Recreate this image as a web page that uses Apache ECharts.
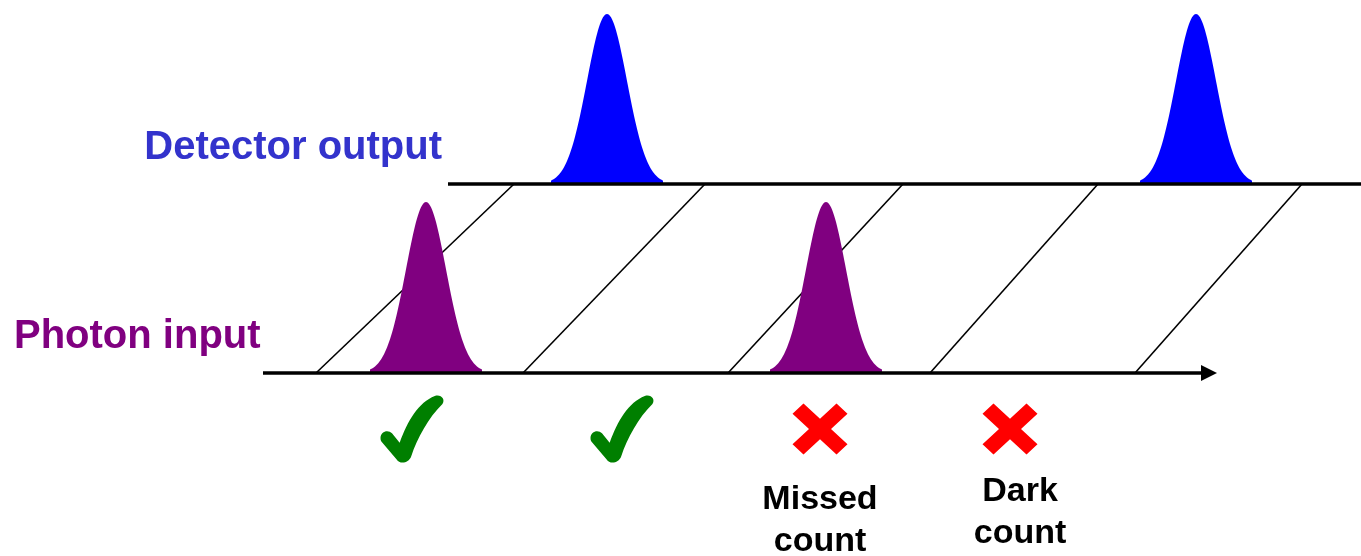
<!DOCTYPE html>
<html>
<head>
<meta charset="utf-8">
<script src="https://cdn.jsdelivr.net/npm/echarts@6/dist/echarts.min.js"></script>
<style>
html,body{margin:0;padding:0;background:#fff;}
#chart{width:1361px;height:556px;}
</style>
</head>
<body>
<div id="chart"></div>
<script>
// ---- data (time units along the horizontal axis) ----
const photonTimes = [426, 826];          // photon arrival pulses
const photonAmps = [171, 171];
const detectorTimes = [607, 1196];       // detector output pulses
const detectorAmps = [170, 170];
const gateStarts = [316, 523, 728, 930, 1135];   // dead-time diagonals (lower track)
const gateEnds = [514, 705, 903, 1098, 1302];    // dead-time diagonals (upper track)
const outcomeTimes = [412, 622, 820, 1010];
const outcomeKinds = ['ok', 'ok', 'miss', 'miss'];
const outcomeLabels = ['', '', 'Missed\ncount', 'Dark\ncount'];

// ---- layout (not data) ----
const W = 1361, H = 556;
const PHOTON_Y = 373, DETECT_Y = 184, MARK_Y = 429;
const PHOTON_AXIS = [263, 1217];
const DETECT_AXIS = [448, 1361];
const SIGMA = 20;
const LABEL_Y = {2: 521, 3: 513};
const LABEL_X = {2: 820, 3: 1020};

const CHECK_PATH = 'path://M0,65 C0,55 12,52 18,58 L30,72 C42,40 60,12 85,3 C95,0 102,8 97,15 C75,35 58,65 48,92 C44,102 30,104 25,96 L3,72 C1,70 0,68 0,65 Z';
const CROSS_PATH = 'path://M0,20 L20,0 L50,30 L80,0 L100,20 L70,50 L100,80 L80,100 L50,70 L20,100 L0,80 L30,50 Z';

function pulseRender(baseY, color) {
  return function (params, api) {
    const c = api.value(0), a = api.value(1);
    const pts = [];
    for (let dx = -2.8 * SIGMA; dx <= 2.8 * SIGMA + 0.01; dx += 1) {
      const y = baseY - a * Math.exp(-(dx * dx) / (2 * SIGMA * SIGMA));
      pts.push(api.coord([c + dx, y]));
    }
    pts.push(api.coord([c + 2.8 * SIGMA, baseY]));
    pts.unshift(api.coord([c - 2.8 * SIGMA, baseY]));
    return {type: 'polygon', shape: {points: pts}, style: {fill: color}};
  };
}

const chart = echarts.init(document.getElementById('chart'), null, {renderer: 'canvas'});
const font = 'bold 40px "Liberation Sans", Arial, sans-serif';
const smallFont = 'bold 34px "Liberation Sans", Arial, sans-serif';

const labelGraphics = [];
outcomeLabels.forEach(function (t, i) {
  if (!t) return;
  labelGraphics.push({
    type: 'text', z: 10,
    style: {text: t, x: LABEL_X[i], y: LABEL_Y[i], font: smallFont, fill: '#000',
      textAlign: 'center', textVerticalAlign: 'middle', align: 'center', verticalAlign: 'middle', lineHeight: 42}
  });
});

chart.setOption({
  animation: false,
  backgroundColor: '#fff',
  grid: {left: 0, right: 0, top: 0, bottom: 0},
  xAxis: {type: 'value', min: 0, max: W, show: false},
  yAxis: {type: 'value', min: 0, max: H, inverse: true, show: false},
  graphic: [
    {type: 'text', z: 10, style: {text: 'Detector output', x: 442, y: 148, font: font, fill: '#3333CC',
      textAlign: 'right', textVerticalAlign: 'middle', align: 'right', verticalAlign: 'middle'}},
    {type: 'text', z: 10, style: {text: 'Photon input', x: 14, y: 337, font: font, fill: '#800080',
      textAlign: 'left', textVerticalAlign: 'middle', align: 'left', verticalAlign: 'middle'}}
  ].concat(labelGraphics),
  series: [
    {
      type: 'custom', z: 1, silent: true,
      data: gateStarts.map(function (s, i) { return [s, gateEnds[i]]; }),
      renderItem: function (params, api) {
        const p0 = api.coord([api.value(0), PHOTON_Y]);
        const p1 = api.coord([api.value(1), DETECT_Y]);
        return {type: 'line', shape: {x1: p0[0], y1: p0[1], x2: p1[0], y2: p1[1]},
          style: {stroke: '#000', lineWidth: 1.6}};
      }
    },
    {
      type: 'custom', z: 2, silent: true,
      data: photonTimes.map(function (t, i) { return [t, photonAmps[i]]; }),
      renderItem: pulseRender(PHOTON_Y, '#800080')
    },
    {
      type: 'custom', z: 2, silent: true,
      data: detectorTimes.map(function (t, i) { return [t, detectorAmps[i]]; }),
      renderItem: pulseRender(DETECT_Y, '#0000FF')
    },
    {
      type: 'custom', z: 3, silent: true,
      data: [[PHOTON_AXIS[0], PHOTON_AXIS[1], PHOTON_Y, 1], [DETECT_AXIS[0], DETECT_AXIS[1], DETECT_Y, 0]],
      renderItem: function (params, api) {
        const y = api.value(2);
        const arrow = api.value(3);
        const a = api.coord([api.value(0), y]);
        const b = api.coord([api.value(1), y]);
        const children = [{type: 'line', shape: {x1: a[0], y1: a[1], x2: b[0] - (arrow ? 10 : 0), y2: b[1]},
          style: {stroke: '#000', lineWidth: 3.5}}];
        if (arrow) {
          children.push({type: 'polygon', shape: {points: [[b[0] - 16, b[1] - 8], [b[0], b[1]], [b[0] - 16, b[1] + 8]]},
            style: {fill: '#000'}});
        }
        return {type: 'group', children: children};
      }
    },
    {
      type: 'scatter', z: 4, silent: true,
      data: outcomeTimes.map(function (t, i) {
        const ok = outcomeKinds[i] === 'ok';
        return {
          value: [t, MARK_Y],
          symbol: ok ? CHECK_PATH : CROSS_PATH,
          symbolSize: ok ? [63, 67] : [55, 51],
          itemStyle: {color: ok ? '#007F00' : '#FF0000', opacity: 1}
        };
      })
    }
  ]
});
</script>
</body>
</html>
